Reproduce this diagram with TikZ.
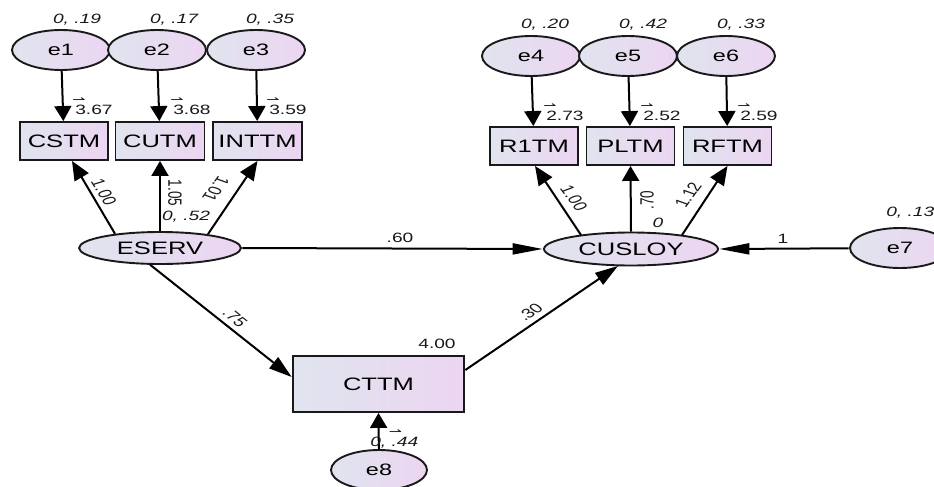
\documentclass[tikz,border=0pt]{standalone}
\usepackage{fontspec}
\setmainfont{Liberation Sans}
\newfontfamily\dvs{DejaVu Sans}
\usetikzlibrary{arrows.meta,shapes.geometric}
\definecolor{cL}{RGB}{224,228,238}
\definecolor{cR}{RGB}{236,213,242}
\definecolor{bd}{RGB}{25,25,25}
\newcommand\hp{\makebox[0pt][l]{\kern-2pt\raisebox{11pt}[0pt][0pt]{\dvs\fontsize{11}{11}\selectfont ⇀}}}
\begin{document}
\begin{tikzpicture}[x=1pt,y=-1pt,
  every node/.style={xscale=1.42},
  lat/.style={ellipse, draw=bd, line width=1.9pt, left color=cL, right color=cR, inner sep=0pt, font=\fontsize{18}{18}\selectfont},
  err/.style={lat, minimum width=69pt, minimum height=40pt, font=\fontsize{16.5}{16.5}\selectfont},
  obs/.style={rectangle, draw=bd, line width=1.9pt, left color=cL, right color=cR, inner sep=0pt, minimum width=62pt, minimum height=38pt, font=\fontsize{18}{18}\selectfont},
  num/.style={inner sep=0pt, text=bd, font=\fontsize{13.5}{13.5}\selectfont},
  var/.style={inner sep=0pt, text=bd, font=\fontsize{13.5}{13.5}\selectfont\itshape},
  va/.style={-{Triangle[length=15pt,width=17pt]}, line width=2pt, draw=black},
  ha/.style={-{Triangle[length=30pt,width=11pt]}, line width=2pt, draw=black},
  da/.style={-{Triangle[length=19pt,width=16pt]}, line width=2pt, draw=black},
  db/.style={-{Triangle[length=23pt,width=14pt]}, line width=2pt, draw=black}]
\fill[white] (0,0) rectangle (934,487);
\useasboundingbox (0,0) rectangle (934,487);
% error terms
\node[err] (e1) at (61,50) {e1};
\node[err] (e2) at (157,50) {e2};
\node[err] (e3) at (256,50) {e3};
\node[err] (e4) at (531,56) {e4};
\node[err] (e5) at (628,56) {e5};
\node[err] (e6) at (726,56) {e6};
% observed
\node[obs] (CSTM) at (64,141) {CSTM};
\node[obs, minimum width=62.7pt] (CUTM) at (160,141) {CUTM};
\node[obs, minimum width=62.7pt] (INTTM) at (257.5,141) {INTTM};
\node[obs] (R1TM) at (534,146) {R1TM};
\node[obs] (PLTM) at (630.5,146) {PLTM};
\node[obs] (RFTM) at (727.5,146) {RFTM};
% latent
\node[lat, minimum width=114pt, minimum height=32pt] (ESERV) at (160,248) {ESERV};
\node[lat, minimum width=122.5pt, minimum height=33pt] (CUSLOY) at (631,249) {CUSLOY};
\node[err, minimum width=70.4pt] (e7) at (900,248) {e7};
\node[err, minimum width=67.6pt] (e8) at (379,470) {e8};
\node[obs, minimum width=120.4pt, minimum height=56pt] (CTTM) at (378.5,384) {CTTM};
% connectors
\draw[va] (e1) -- (CSTM);
\draw[va] (e2) -- (CUTM);
\draw[va] (e3) -- (INTTM);
\draw[va] (e4) -- (R1TM);
\draw[va] (e5) -- (PLTM);
\draw[va] (e6) -- (RFTM);
\draw[da] ([xshift=-45pt,yshift=-2.7pt]ESERV.north) -- ([xshift=8pt]CSTM.south);
\draw[va] (ESERV.north) -- (CUTM.south);
\draw[da] ([xshift=48pt,yshift=-3pt]ESERV.north) -- (INTTM.south);
\draw[da] ([xshift=-50pt,yshift=-3.5pt]CUSLOY.north) -- ([xshift=1pt]R1TM.south);
\draw[va] (CUSLOY.north) -- (PLTM.south);
\draw[da] ([xshift=51pt,yshift=-3.5pt]CUSLOY.north) -- (RFTM.south);
\draw[ha] (ESERV.east) -- (CUSLOY.west);
\draw[ha] (e7) -- (CUSLOY.east);
\draw[db] ([xshift=-10pt,yshift=0.3pt]ESERV.south) -- ([yshift=7pt]CTTM.west);
\draw[db] ([yshift=14pt]CTTM.east) -- ([xshift=-13pt,yshift=0.5pt]CUSLOY.south);
\draw[va] (e8) -- (CTTM.south);
% variances
\node[var] (v1) at (77,20) {0, .19};
\node[var] (v2) at (174,20) {0, .17};
\node[var] (v3) at (270,20) {0, .35};
\node[var] (v4) at (545,25) {0, .20};
\node[var] (v5) at (643,25) {0, .42};
\node[var] (v6) at (741,25) {0, .33};
\node[var, anchor=west] (v7) at (886,213) {0, .13};
\node[var] (v9) at (186,217) {0, .52};
\node[var] (v10) at (658,223) {0};
\node[var, anchor=base west] (v8) at (370,446) {0, \hp.44};
% intercepts
\node[num, anchor=base west] (i1) at (75,114) {\hp 3.67};
\node[num, anchor=base west] (i2) at (173,114) {\hp 3.68};
\node[num, anchor=base west] (i3) at (269,114) {\hp 3.59};
\node[num, anchor=base west] (i4) at (546,120) {\hp 2.73};
\node[num, anchor=base west] (i5) at (643,120) {\hp 2.52};
\node[num, anchor=base west] (i6) at (740,120) {\hp 2.59};
\node[num] (i7) at (437,344) {4.00};
% weights
\node[num, rotate=-66] (w1) at (104,192) {1.00};
\node[num, rotate=-90] (w2) at (175,193) {1.05};
\node[num, rotate=-117] (w3) at (216,189) {1.01};
\node[num, rotate=-62] (w4) at (574,198) {1.00};
\node[num, rotate=90] (w5) at (647,200) {.70};
\node[num, rotate=63] (w6) at (688,195) {1.12};
\node[num] (w7) at (400,238) {.60};
\node[num] (w8) at (783,239) {1};
\node[num, rotate=-49] (w9) at (235,318) {.75};
\node[num, rotate=44] (w10) at (530,312) {.30};
\end{tikzpicture}
\end{document}
